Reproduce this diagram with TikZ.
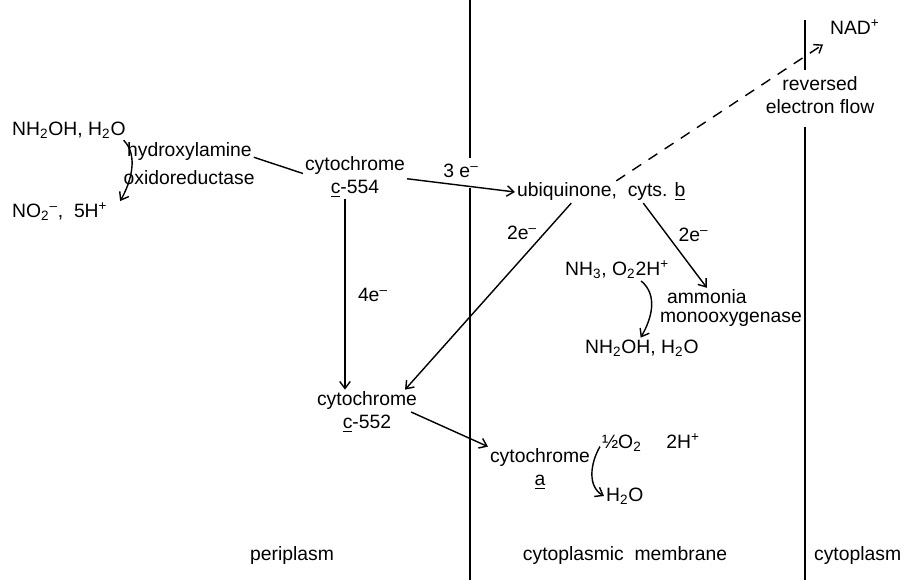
\documentclass[tikz,border=0pt]{standalone}
\usepackage{fontspec}
\setmainfont{Liberation Sans}
\usepackage{tikz}
\usetikzlibrary{arrows.meta, positioning}
\newcommand{\ssub}[1]{\textsubscript{#1}}
\newcommand{\ssup}[1]{\textsuperscript{#1}}
\begin{document}
\begin{tikzpicture}[x=0.02cm, y=-0.02cm,
    rotulo/.style={inner sep=1pt, align=center, font=\fontsize{11}{13}\selectfont},
    seta/.style={line width=0.8pt, -{Straight Barb[length=4pt, width=6pt]}},
    membrana/.style={line width=1pt}]
            \useasboundingbox (0,0) rectangle (910,580);
            % membranas
            \draw[membrana] (470,0) -- (470,158);
            \draw[membrana] (470,188) -- (470,580);
            \draw[membrana] (805,20) -- (805,70);
            \draw[membrana] (805,127) -- (805,580);
            % periplasma
            \node[rotulo, anchor=west] (nh2oh) at (10,130) {NH\ssub{2}OH, H\ssub{2}O};
            \node[rotulo, anchor=west] (no2) at (10,212) {NO\ssub{2}\ssup{--}, \ 5H\ssup{+}};
            \node[rotulo, anchor=west] (hao1) at (125,152) {hydroxylamine};
            \node[rotulo, below=3pt of hao1.south west, anchor=north west, xshift=-2pt] (hao2) {oxidoreductase};
            \node[rotulo] (c554) at (355,177) {cytochrome\\\underline{c}-554};
            \node[rotulo] (c552) at (367,412) {cytochrome\\\underline{c}-552};
            % membrana citoplasmica
            \node[rotulo, anchor=west] (ubq) at (515,192) {ubiquinone, \ cyts. \underline{b}};
            \node[rotulo, anchor=west] (nh3) at (563,270) {NH\ssub{3}, O\ssub{2}2H\ssup{+}};
            \node[rotulo, anchor=west] (amo1) at (665,297) {ammonia};
            \node[rotulo, below=2pt of amo1.south west, anchor=north west, xshift=-4pt] (amo2) {monooxygenase};
            \node[rotulo, anchor=west] (nh2oh2) at (583,348) {NH\ssub{2}OH, H\ssub{2}O};
            \node[rotulo] (cyta) at (540,469) {cytochrome\\\underline{a}};
            \node[rotulo, anchor=west] (o2) at (600,443) {½O\ssub{2} \quad 2H\ssup{+}};
            \node[rotulo, anchor=west] (h2o) at (604,496) {H\ssub{2}O};
            % citoplasma
            \node[rotulo, anchor=west] (nad) at (828,27) {NAD\ssup{+}};
            \node[rotulo] (rev) at (820,95) {reversed\\electron flow};
            % regioes
            \node[rotulo] (peri) at (292,556) {periplasm};
            \node[rotulo] (memb) at (625,556) {cytoplasmic \ membrane};
            \node[rotulo, anchor=west] (cito) at (812,556) {cytoplasm};
            % fluxo de eletrons
            \draw[line width=0.8pt] ([yshift=-3pt]hao1.east) -- ([yshift=2pt]c554.west);
            \draw[seta] ([xshift=-4*0.02cm]nh2oh.south east) to[out=-45, in=60, looseness=0.9] ([xshift=6pt]no2.north east);
            \draw[seta] ([yshift=-1pt]c554.east) -- (ubq.west)
                node[rotulo, midway, above=3pt] {3 e\ssup{--}};
            \draw[seta] ([xshift=-10*0.02cm]c554.south) -- ([xshift=-22*0.02cm]c552.north)
                node[rotulo, midway, right=6pt] {4e\ssup{--}};
            \draw[seta] ([xshift=-30*0.02cm]ubq.south) -- ([xshift=-14*0.02cm]c552.north east)
                node[rotulo, pos=0.16, left=3pt] {2e\ssup{--}};
            \draw[seta] ([xshift=42*0.02cm]ubq.south) -- (amo1.north)
                node[rotulo, pos=0.38, right=5pt] {2e\ssup{--}};
            \draw[seta, dashed, dash pattern=on 6pt off 5pt] ([xshift=15*0.02cm]ubq.north) -- ([xshift=-5*0.02cm, yshift=-8*0.02cm]nad.south west);
            \draw[seta] ([xshift=-30*0.02cm]nh3.south east) to[out=-40, in=60] ([xshift=-60*0.02cm]nh2oh2.north east);
            \draw[seta] ([xshift=-8*0.02cm]c552.east) -- (cyta.north west);
            \draw[seta] ([yshift=-2pt]o2.west) to[out=-120, in=150] (h2o.west);
        \end{tikzpicture}
\end{document}
